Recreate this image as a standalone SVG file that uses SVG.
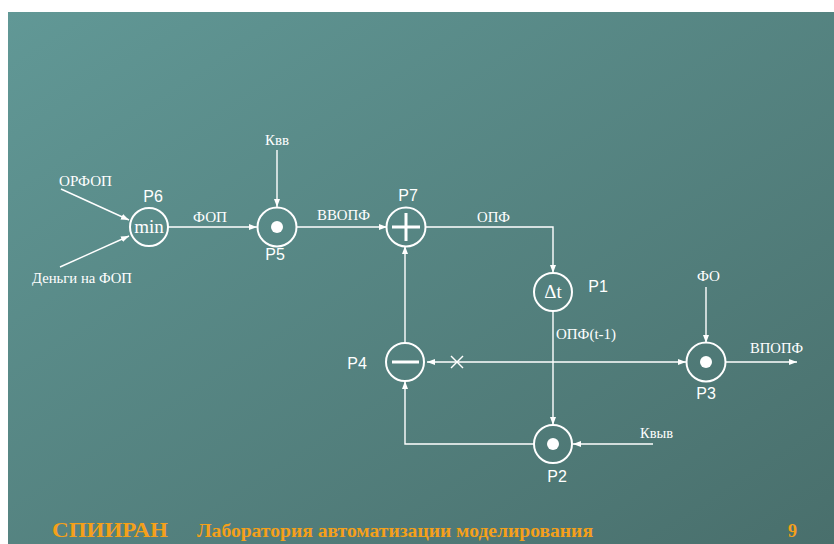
<svg xmlns="http://www.w3.org/2000/svg" width="834" height="544" viewBox="0 0 834 544">
<defs>
<linearGradient id="bg" x1="0" y1="0" x2="1" y2="1">
<stop offset="0" stop-color="#619896"/>
<stop offset="1" stop-color="#496f6c"/>
</linearGradient>
<marker id="ah" markerUnits="userSpaceOnUse" markerWidth="9" markerHeight="7" refX="8" refY="3.5" orient="auto">
<path d="M0,0.5 L8,3.5 L0,6.5 z" fill="#ffffff"/>
</marker>
<marker id="ahs" markerUnits="userSpaceOnUse" markerWidth="9" markerHeight="7" refX="0" refY="3.5" orient="auto">
<path d="M8,0.5 L0,3.5 L8,6.5 z" fill="#ffffff"/>
</marker>
<style>
.node circle.ring{fill:none;stroke:#ffffff;stroke-width:2}
.dot{fill:#ffffff}
.sym{stroke:#ffffff;stroke-width:3;fill:none}
.lbl{font-family:"Liberation Sans",Arial,sans-serif;font-size:16px;fill:#ffffff}
.inner{font-family:"Liberation Serif","Times New Roman",serif;font-size:19px;fill:#ffffff}
.sig{font-family:"Liberation Serif","Times New Roman",serif;font-size:14px;fill:#ffffff}
.conn line,.conn polyline{stroke:#ffffff;stroke-width:1.4;fill:none}
.foot{font-family:"Liberation Serif","Times New Roman",serif;font-weight:bold;fill:#f5a01a}
</style>
</defs>
<rect x="0" y="0" width="834" height="544" fill="#ffffff"/>
<rect x="8" y="12" width="826" height="532" fill="url(#bg)"/>

<g id="connectors" class="conn">
<line x1="61" y1="189" x2="129" y2="220" marker-end="url(#ah)"/>
<line x1="60" y1="267" x2="129" y2="236" marker-end="url(#ah)"/>
<line x1="168" y1="227" x2="257" y2="227" marker-end="url(#ah)"/>
<line x1="277" y1="150" x2="277" y2="207" marker-end="url(#ah)"/>
<line x1="297" y1="227" x2="387" y2="227" marker-end="url(#ah)"/>
<polyline points="426,227 553,227 553,273" marker-end="url(#ah)"/>
<line x1="553" y1="311" x2="553" y2="425" marker-end="url(#ah)"/>
<line x1="653" y1="444" x2="573" y2="444" marker-end="url(#ah)"/>
<polyline points="534,444 405,444 405,381" marker-end="url(#ah)"/>
<line x1="405" y1="343" x2="405" y2="246" marker-end="url(#ah)"/>
<line x1="427" y1="362" x2="686" y2="362" marker-start="url(#ahs)" marker-end="url(#ah)"/>
<line x1="451" y1="356" x2="463" y2="368"/>
<line x1="451" y1="368" x2="463" y2="356"/>
<line x1="706" y1="287" x2="706" y2="343" marker-end="url(#ah)"/>
<line x1="726" y1="362" x2="797" y2="362" marker-end="url(#ah)"/>
</g>

<g id="signals">
<text class="sig" x="59" y="186" textLength="53" lengthAdjust="spacingAndGlyphs">ОРФОП</text>
<text class="sig" x="32" y="283" textLength="100" lengthAdjust="spacingAndGlyphs">Деньги на ФОП</text>
<text class="sig" x="193" y="222" textLength="34" lengthAdjust="spacingAndGlyphs">ФОП</text>
<text class="sig" x="265" y="145" textLength="24" lengthAdjust="spacingAndGlyphs">Квв</text>
<text class="sig" x="317" y="220" textLength="53" lengthAdjust="spacingAndGlyphs">ВВОПФ</text>
<text class="sig" x="477" y="222" textLength="33" lengthAdjust="spacingAndGlyphs">ОПФ</text>
<text class="sig" x="556" y="339" textLength="60" lengthAdjust="spacingAndGlyphs">ОПФ(t-1)</text>
<text class="sig" x="697" y="281" textLength="23" lengthAdjust="spacingAndGlyphs">ФО</text>
<text class="sig" x="750" y="353" textLength="53" lengthAdjust="spacingAndGlyphs">ВПОПФ</text>
<text class="sig" x="640" y="438" textLength="33" lengthAdjust="spacingAndGlyphs">Квыв</text>
</g>

<g id="P6" class="node">
<circle class="ring" cx="149" cy="227" r="19"/>
<text class="inner" x="149" y="233" text-anchor="middle">min</text>
<text class="lbl" x="153" y="202" text-anchor="middle">P6</text>
</g>
<g id="P5" class="node">
<circle class="ring" cx="277" cy="227" r="19.5"/>
<circle class="dot" cx="277" cy="227" r="6"/>
<text class="lbl" x="275" y="260" text-anchor="middle">P5</text>
</g>
<g id="P7" class="node">
<circle class="ring" cx="406" cy="227" r="19.5"/>
<path class="sym" d="M392,227 H420 M406,213 V241"/>
<text class="lbl" x="408" y="201" text-anchor="middle">P7</text>
</g>
<g id="P1" class="node">
<circle class="ring" cx="553" cy="292" r="19"/>
<text class="inner" x="553" y="298" text-anchor="middle">Δt</text>
<text class="lbl" x="598" y="292" text-anchor="middle">P1</text>
</g>
<g id="P4" class="node">
<circle class="ring" cx="405" cy="362" r="19"/>
<path class="sym" d="M392,362 H419"/>
<text class="lbl" x="357" y="369" text-anchor="middle">P4</text>
</g>
<g id="P3" class="node">
<circle class="ring" cx="706" cy="362" r="19.5"/>
<circle class="dot" cx="706" cy="362" r="6"/>
<text class="lbl" x="706" y="399" text-anchor="middle">P3</text>
</g>
<g id="P2" class="node">
<circle class="ring" cx="553" cy="444" r="19"/>
<circle class="dot" cx="553" cy="444" r="6"/>
<text class="lbl" x="557" y="482" text-anchor="middle">P2</text>
</g>

<g id="footer">
<text class="foot" x="52" y="537" font-size="21" textLength="116" lengthAdjust="spacingAndGlyphs">СПИИРАН</text>
<text class="foot" x="197" y="537" font-size="18" textLength="396" lengthAdjust="spacingAndGlyphs">Лаборатория автоматизации моделирования</text>
<text class="foot" x="788" y="537" font-size="18">9</text>
</g>
</svg>
